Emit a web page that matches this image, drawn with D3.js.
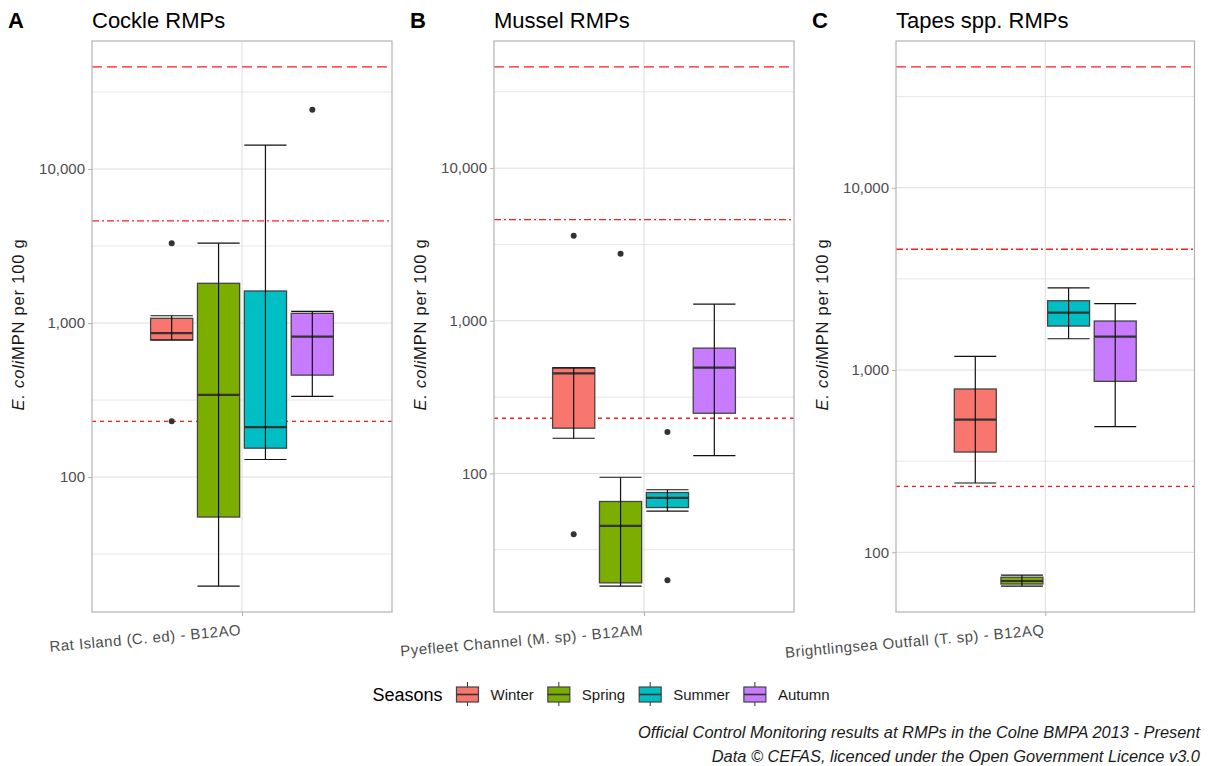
<!DOCTYPE html>
<html>
<head>
<meta charset="utf-8">
<script src="https://cdn.jsdelivr.net/npm/d3@7"></script>
<style>
  body { margin: 0; background: #fff; }
  text { font-family: "Liberation Sans", Arial, sans-serif; }
</style>
</head>
<body>
<div id="chart"></div>
<script>
// Seasons and their fill colours (ggplot defaults)
const seasons = ["Winter", "Spring", "Summer", "Autumn"];
const seasonColours = ["#F8766D", "#7CAE00", "#00BFC4", "#C77CFF"];

const panelTags = ["A", "B", "C"];
const panelTitles = ["Cockle RMPs", "Mussel RMPs", "Tapes spp. RMPs"];
const siteLabels = [
  "Rat Island (C. ed) - B12AO",
  "Pyefleet Channel (M. sp) - B12AM",
  "Brightlingsea Outfall (T. sp) - B12AQ"
];

// box stats per season: [lower whisker, Q1, median, Q3, upper whisker]
const cockleStats = [
  [776, 776, 861, 1073, 1115],
  [19.6, 55, 342, 1811, 3300],
  [130, 154, 211, 1615, 14300],
  [334, 459, 815, 1156, 1192]
];
const cockleOutliers = [[3300, 230], [], [], [24300]];

const musselStats = [
  [170, 198, 452, 492, 492],
  [18.3, 19.2, 45.4, 65.5, 94.4],
  [56.6, 59.8, 69.2, 75, 78.2],
  [131, 248, 494, 662, 1285]
];
const musselOutliers = [[3600, 40], [2750], [187, 20], []];

const tapesStats = [
  [240, 355, 534, 787, 1189],
  [65.3, 67, 69.6, 73, 75],
  [1485, 1743, 2063, 2400, 2826],
  [489, 867, 1524, 1857, 2311]
];
const tapesOutliers = [[], [], [], []];

// classification limits (MPN per 100 g)
const thresholds = [230, 4600, 46000];
const thresholdDash = ["4,4", "7,3,2,3", "10,5"];
const yTicks = [100, 1000, 10000];

const captionLines = [
  "Official Control Monitoring results at RMPs in the Colne BMPA 2013 - Present",
  "Data \u00A9 CEFAS, licenced under the Open Government Licence v3.0"
];

const panelStats = [cockleStats, musselStats, tapesStats];
const panelOutliers = [cockleOutliers, musselOutliers, tapesOutliers];

const width = 1210, height = 766;
const panelLeft = [92, 494, 896];
const panelWidth = [300, 300, 298.5];
const plotTop = 41, plotBottom = 612;

const svg = d3.select("#chart").append("svg")
  .attr("width", width)
  .attr("height", height);

panelTitles.forEach((title, p) => {
  const left = panelLeft[p], right = left + panelWidth[p];
  const stats = panelStats[p], outliers = panelOutliers[p];

  // log y domain from data + limits, expanded 5% like ggplot
  const allVals = stats.flat().concat(outliers.flat(), thresholds);
  const lo = Math.log10(d3.min(allVals)), hi = Math.log10(d3.max(allVals));
  const pad = (hi - lo) * 0.05;
  const y = d3.scaleLog()
    .domain([Math.pow(10, lo - pad), Math.pow(10, hi + pad)])
    .range([plotBottom, plotTop]);

  // one discrete site at 1, with 0.6 expansion each side
  const x = d3.scaleLinear().domain([0.4, 1.6]).range([left, right]);
  const dodge = d3.scaleBand()
    .domain(seasons)
    .range([x(0.625), x(1.375)])
    .paddingInner(0.1)
    .paddingOuter(0.05);

  const g = svg.append("g");

  // grid lines
  const minor = [31.62, 316.2, 3162, 31623].filter(v => v > y.domain()[0] && v < y.domain()[1]);
  g.selectAll(".minor").data(minor).enter().append("line")
    .attr("x1", left).attr("x2", right)
    .attr("y1", d => y(d)).attr("y2", d => y(d))
    .attr("stroke", "#E6E6E6").attr("stroke-width", 1);
  g.selectAll(".major").data(yTicks).enter().append("line")
    .attr("x1", left).attr("x2", right)
    .attr("y1", d => y(d)).attr("y2", d => y(d))
    .attr("stroke", "#DEDEDE").attr("stroke-width", 1);
  g.append("line")
    .attr("x1", x(1)).attr("x2", x(1))
    .attr("y1", plotTop).attr("y2", plotBottom)
    .attr("stroke", "#DEDEDE").attr("stroke-width", 1);

  // limit lines
  g.selectAll(".limit").data(thresholds).enter().append("line")
    .attr("x1", left).attr("x2", right)
    .attr("y1", d => y(d)).attr("y2", d => y(d))
    .attr("stroke", "#FF0000")
    .attr("stroke-opacity", 0.9)
    .attr("stroke-width", 1.3)
    .attr("stroke-dasharray", (d, i) => thresholdDash[i]);

  // boxes
  const bw = dodge.bandwidth();
  const boxes = g.selectAll(".box").data(stats).enter().append("g");
  boxes.append("rect")
    .attr("x", (d, i) => dodge(seasons[i]))
    .attr("width", bw)
    .attr("y", d => y(d[3]))
    .attr("height", d => y(d[1]) - y(d[3]))
    .attr("fill", (d, i) => seasonColours[i])
    .attr("stroke", "#444")
    .attr("stroke-width", 1.3);
  boxes.append("line")
    .attr("x1", (d, i) => dodge(seasons[i]))
    .attr("x2", (d, i) => dodge(seasons[i]) + bw)
    .attr("y1", d => y(d[2])).attr("y2", d => y(d[2]))
    .attr("stroke", "#333").attr("stroke-width", 2.2);

  // error bar whiskers
  boxes.append("line")
    .attr("x1", (d, i) => dodge(seasons[i]) + bw / 2)
    .attr("x2", (d, i) => dodge(seasons[i]) + bw / 2)
    .attr("y1", d => y(d[0])).attr("y2", d => y(d[4]))
    .attr("stroke", "#111").attr("stroke-width", 1.2);
  [0, 4].forEach(k => {
    boxes.append("line")
      .attr("x1", (d, i) => dodge(seasons[i]))
      .attr("x2", (d, i) => dodge(seasons[i]) + bw)
      .attr("y1", d => y(d[k])).attr("y2", d => y(d[k]))
      .attr("stroke", "#111").attr("stroke-width", 1.2);
  });

  // outliers
  outliers.forEach((vals, i) => {
    g.selectAll(null).data(vals).enter().append("circle")
      .attr("cx", dodge(seasons[i]) + bw / 2)
      .attr("cy", d => y(d))
      .attr("r", 3)
      .attr("fill", "#333");
  });

  // panel border
  g.append("rect")
    .attr("x", left).attr("y", plotTop)
    .attr("width", right - left).attr("height", plotBottom - plotTop)
    .attr("fill", "none").attr("stroke", "#B3B3B3").attr("stroke-width", 1.2);

  // y axis
  const yAxis = g.append("g")
    .attr("transform", `translate(${left},0)`)
    .call(d3.axisLeft(y).tickValues(yTicks).tickFormat(d3.format(",")).tickSize(4).tickPadding(3));
  yAxis.select(".domain").remove();
  yAxis.selectAll(".tick line").attr("stroke", "#B3B3B3");
  yAxis.selectAll(".tick text")
    .attr("fill", "#4D4D4D")
    .style("font-size", "15px")
    .style("font-family", "Liberation Sans, Arial, sans-serif");

  // x axis
  const xAxis = g.append("g")
    .attr("transform", `translate(0,${plotBottom})`)
    .call(d3.axisBottom(x).tickValues([1]).tickFormat(() => siteLabels[p]).tickSize(4));
  xAxis.select(".domain").remove();
  xAxis.selectAll(".tick line").attr("stroke", "#B3B3B3");
  xAxis.selectAll(".tick text")
    .attr("fill", "#4D4D4D")
    .attr("text-anchor", "end")
    .attr("y", 0).attr("dy", 0)
    .attr("transform", "translate(-1,23) rotate(-5)")
    .style("font-size", "15px")
    .style("letter-spacing", "0.5px")
    .style("font-family", "Liberation Sans, Arial, sans-serif");

  // y title
  const yt = g.append("text")
    .attr("transform", `translate(${left - 68},${(plotTop + plotBottom) / 2 - 2}) rotate(-90)`)
    .attr("text-anchor", "middle")
    .style("font-size", "16.5px")
    .style("letter-spacing", "0.8px")
    .attr("fill", "#1a1a1a");
  yt.append("tspan").style("font-style", "italic").text("E. coli");
  yt.append("tspan").text("MPN per 100 g");

  // title and tag
  g.append("text")
    .attr("x", left).attr("y", 28)
    .style("font-size", "22px")
    .attr("fill", "#000")
    .text(title);
  g.append("text")
    .attr("x", left - 84).attr("y", 28)
    .style("font-size", "22px")
    .style("font-weight", "bold")
    .attr("fill", "#000")
    .text(panelTags[p]);
});

// legend
const legend = svg.append("g");
const legendTitle = legend.append("text")
  .attr("x", 0).attr("y", 701)
  .style("font-size", "18px")
  .attr("fill", "#000")
  .text("Seasons");
let lx = legendTitle.node().getComputedTextLength() + 13;
seasons.forEach((s, i) => {
  const k = legend.append("g").attr("transform", `translate(${lx},0)`);
  k.append("line").attr("x1", 12).attr("x2", 12).attr("y1", 682).attr("y2", 706)
    .attr("stroke", "#333").attr("stroke-width", 1);
  k.append("rect").attr("x", 1).attr("y", 687).attr("width", 22).attr("height", 15)
    .attr("fill", seasonColours[i]).attr("stroke", "#444").attr("stroke-width", 1.2);
  k.append("line").attr("x1", 1).attr("x2", 23).attr("y1", 694.5).attr("y2", 694.5)
    .attr("stroke", "#333").attr("stroke-width", 1.6);
  const t = k.append("text")
    .attr("x", 35).attr("y", 700)
    .style("font-size", "15px")
    .attr("fill", "#1a1a1a")
    .text(s);
  lx += 35 + t.node().getComputedTextLength() + 13;
});
legend.attr("transform", `translate(${601 - (lx - 13) / 2},0)`);

// caption
svg.selectAll(".caption").data(captionLines).enter().append("text")
  .attr("x", 1200)
  .attr("y", (d, i) => 738 + i * 24)
  .attr("text-anchor", "end")
  .style("font-size", "16.4px")
  .style("font-style", "italic")
  .attr("fill", "#1a1a1a")
  .text(d => d);
</script>
</body>
</html>
